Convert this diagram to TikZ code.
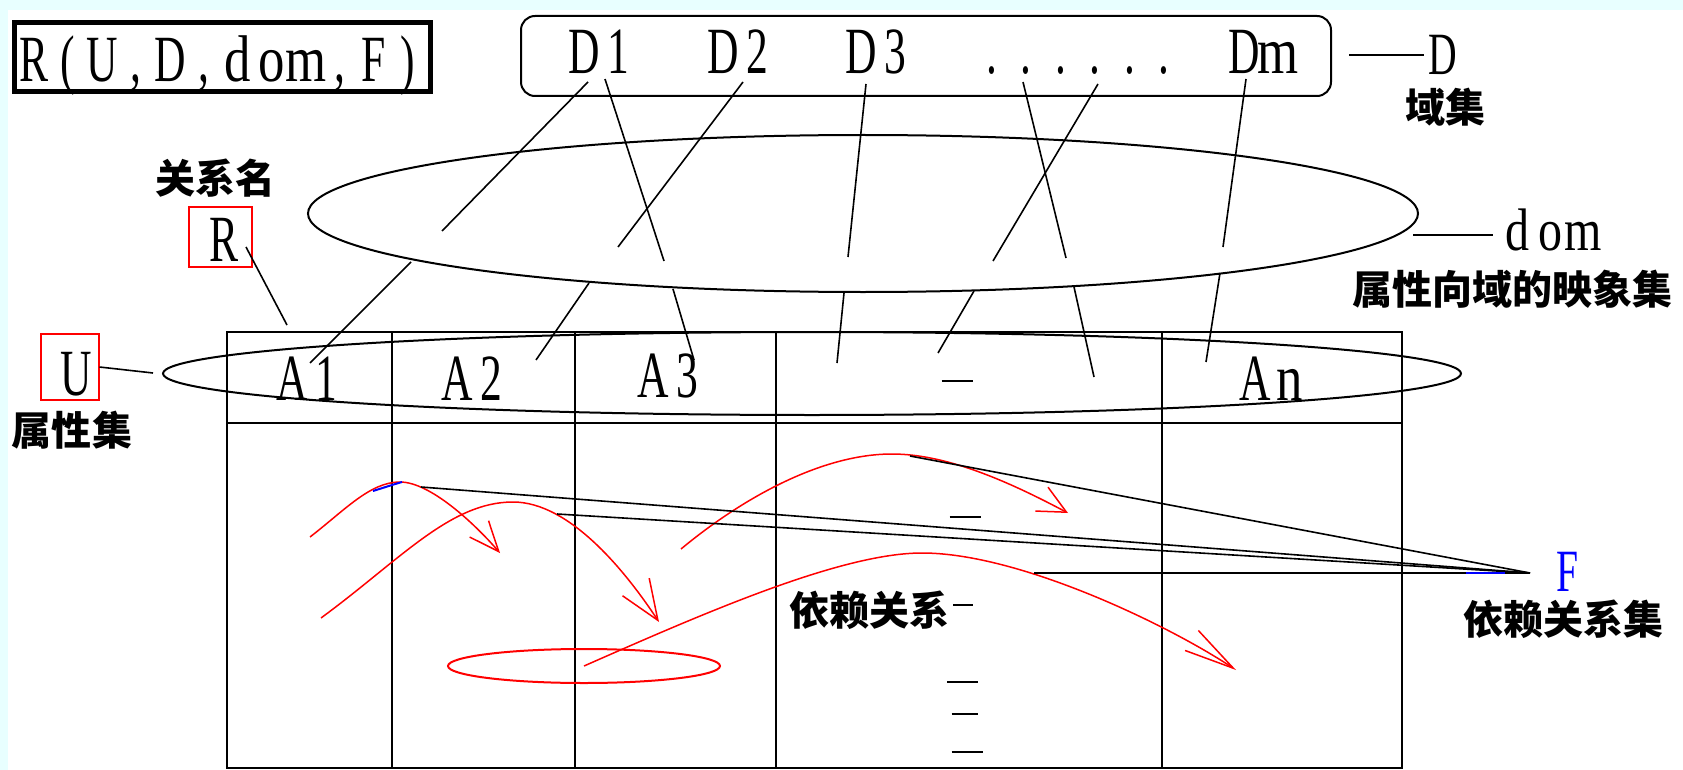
\documentclass[tikz,border=0pt]{standalone}
\usepackage{fontspec}
\usepackage{graphicx}
\setmainfont{Liberation Serif}
\newfontfamily\cjk{Noto Sans CJK SC}
\usetikzlibrary{arrows.meta,shapes.geometric}
\definecolor{bgcyan}{RGB}{232,255,255}
\newlength\mycellw
\def\mycellloop#1{\ifx#1\relax\else\ifnum`#1=\lccode`#1 \makebox[\mycellw]{\scalebox{0.8}[1]{#1}}\else\makebox[\mycellw]{\scalebox{0.66}[1]{#1}}\fi\expandafter\mycellloop\fi}
\newcommand\cellstr[2]{\setlength\mycellw{#1}\mycellloop#2\relax}
\tikzset{
  lat/.style={inner sep=0pt, anchor=base, font=\fontsize{66}{66}\selectfont},
  latsm/.style={inner sep=0pt, anchor=base, font=\fontsize{60}{60}\selectfont},
  cjklbl/.style={inner sep=0pt, font=\cjk\bfseries\fontsize{40}{40}\selectfont},
  conn/.style={line width=1.6pt},
  frame/.style={line width=2pt},
  redarc/.style={red, line width=1.5pt},
  redbox/.style={draw=red, line width=2pt, inner sep=0pt},
  setell/.style={draw, ellipse, line width=2pt, inner sep=0pt},
}
\begin{document}
\begin{tikzpicture}[x=1pt,y=-1pt]
\useasboundingbox (0,0) rectangle (1683,770);
\fill[white] (0,0) rectangle (1683,770);
\fill[bgcyan] (0,0) rectangle (1683,10);
\fill[bgcyan] (0,0) rectangle (8,770);

% title
\node[draw, line width=5pt, minimum width=416pt, minimum height=69pt, inner sep=0pt] (titlebox) at (222.4,57) {};
\node[lat] (title) at (221,82) {\cellstr{34pt}{R(U,D,dom,F)}};

% domain set box
\node[draw, line width=2pt, rounded corners=14pt, minimum width=810pt, minimum height=80pt, inner sep=0pt] (Dbox) at (926,56) {};
\node[lat] (D1) at (601.5,74) {\cellstr{34.5pt}{D1}};
\node[lat] (D2) at (740,74) {\cellstr{34.5pt}{D2}};
\node[lat] (D3) at (878,74) {\cellstr{34.5pt}{D3}};
\node[lat] (Ddots) at (1078,74) {\cellstr{34.5pt}{......}};
\node[lat] (Dm) at (1261,74) {\cellstr{34.5pt}{Dm}};
\node[latsm] (Dlbl) at (1443,75) {\cellstr{33pt}{D}};
\node[cjklbl] (Dcn) at (1445,107.5) {域集};
\coordinate (dA) at (1349,55);
\coordinate (dB) at (1424,55);
\draw[conn] (dA) -- (dB);

% dom ellipse
\node[setell, minimum width=1110pt, minimum height=157pt] (domset) at (863,213.5) {};
\node[latsm] (domlbl) at (1550,250) {\cellstr{33pt}{dom}};
\node[cjklbl] (domcn) at (1512,289) {属性向域的映象集};
\coordinate (mA) at (1413,235);
\coordinate (mB) at (1493,235);
\draw[conn] (mA) -- (mB);

% relation name
\node[cjklbl] (Rcn) at (215,178) {关系名};
\node[redbox, minimum width=63pt, minimum height=60pt] (Rbox) at (220,236.7) {};
\node[lat] (R) at (224,261) {\cellstr{34pt}{R}};
\coordinate (rA) at (246,247);
\coordinate (rB) at (287,325);
\draw[conn] (rA) -- (rB);

% attribute set
\node[redbox, minimum width=58pt, minimum height=66pt] (Ubox) at (69.5,367) {};
\node[lat] (U) at (76,395) {\cellstr{34pt}{U}};
\node[cjklbl] (Ucn) at (72,430.5) {属性集};
\coordinate (uB) at (153,373);
\draw[conn] (Ubox.east) -- (uB);

% table
\draw[frame] (227,332) rectangle (1401.5,768);
\draw[frame] (227,423) -- (1401.5,423);
\foreach \cx in {392,575,775.5,1162} {\draw[frame] (\cx,332) -- (\cx,768);}

\node[setell, minimum width=1298pt, minimum height=83pt] (Uset) at (812,373.5) {};
\node[lat] (A1) at (309,400) {\cellstr{34.5pt}{A1}};
\node[lat] (A2) at (474,400) {\cellstr{34.5pt}{A2}};
\node[lat] (A3) at (670,397) {\cellstr{34.5pt}{A3}};
\node[lat] (An) at (1272,400) {\cellstr{34.5pt}{An}};

% dashes in column 4
\draw[frame] (941.5,381) -- (973,381);
\draw[frame] (949.5,517) -- (981,517);
\draw[frame] (947,682) -- (978,682);
\draw[frame] (951.5,714) -- (978,714);
\draw[frame] (951.5,752) -- (983,752);
\node[cjklbl] (deptxt) at (869,610) {依赖关系};
\draw[conn] (953,605) -- (973,605);

% D -> dom lines
\coordinate (u1a) at (588,82);   \coordinate (u1b) at (442,231);
\coordinate (u2a) at (605,79);   \coordinate (u2b) at (664,261);
\coordinate (u3a) at (743,82);   \coordinate (u3b) at (618,247);
\coordinate (u4a) at (866,84);   \coordinate (u4b) at (848,257);
\coordinate (u5a) at (1023,82);  \coordinate (u5b) at (1066,258);
\coordinate (u6a) at (1098,84);  \coordinate (u6b) at (993,261);
\coordinate (u7a) at (1246,79);  \coordinate (u7b) at (1223,247);
\foreach \i in {1,...,7} {\draw[conn] (u\i a) -- (u\i b);}

% dom -> A lines
\coordinate (l1a) at (411,262);  \coordinate (l1b) at (310,363);
\coordinate (l2a) at (589,283);  \coordinate (l2b) at (536,360);
\coordinate (l3a) at (673,289);  \coordinate (l3b) at (694,360);
\coordinate (l4a) at (844,293);  \coordinate (l4b) at (837,363);
\coordinate (l5a) at (974,291);  \coordinate (l5b) at (938,353);
\coordinate (l6a) at (1074,287); \coordinate (l6b) at (1094,377);
\coordinate (l7a) at (1220,273); \coordinate (l7b) at (1206,362);
\foreach \i in {1,...,7} {\draw[conn] (l\i a) -- (l\i b);}

% dependency set
\node[setell, draw=red, minimum width=272pt, minimum height=34pt] (redset) at (584,666) {};
\node[latsm, text=blue] (F) at (1567,591) {\cellstr{33pt}{F}};
\node[cjklbl] (Fcn) at (1563,619.5) {依赖关系集};

% red dependency arrows
\draw[redarc, -{Straight Barb[length=30pt,width=25pt]}] (310,537) .. controls (345,510) and (370,482) .. (400,482) .. controls (430,482) and (474,523) .. (500,553);
\draw[redarc, -{Straight Barb[length=40pt,width=32pt]}] (321,618) .. controls (400,560) and (450,502) .. (513,502) .. controls (570,502) and (626,572) .. (659,622);
\draw[redarc, -{Straight Barb[length=28pt,width=27pt]}] (681,549) .. controls (740,500) and (820,454) .. (892,454) .. controls (950,454) and (1015,485) .. (1068,513);
\draw[redarc, -{Straight Barb[length=50pt,width=24pt]}] (redset.center) .. controls (700,615) and (840,553) .. (922,553) .. controls (1020,553) and (1170,626) .. (1236,670);
\draw[blue, line width=2pt] (373,491) -- (392,485) -- (402,482);

% lines to F
\coordinate (Fp) at (1530,573);
\coordinate (f1) at (910,456);
\coordinate (f2) at (421,487);
\coordinate (f3) at (557,514);
\coordinate (f4) at (1034,573);
\foreach \i in {1,...,4} {\draw[conn] (f\i) -- (Fp);}
\draw[blue, line width=2pt] (1466,573) -- (1505,573);
\end{tikzpicture}
\end{document}
